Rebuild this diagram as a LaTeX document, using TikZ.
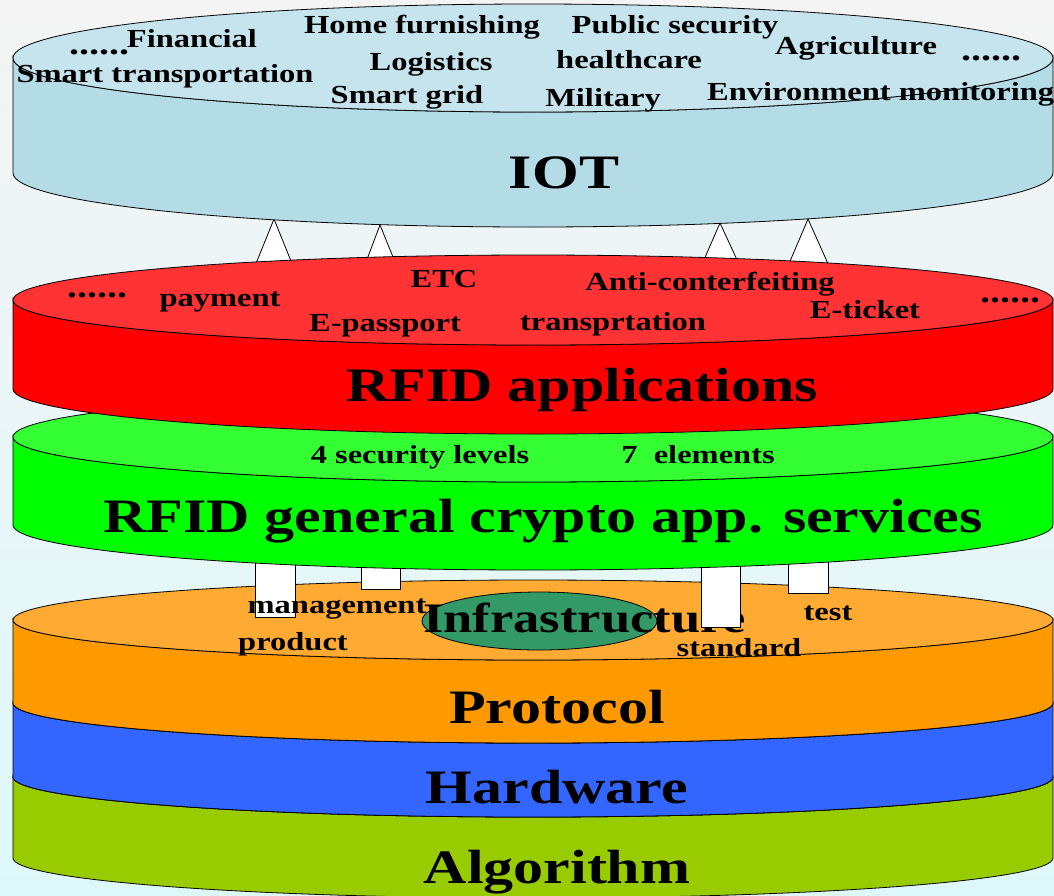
\documentclass[tikz,border=0pt]{standalone}
\usepackage{fontspec}
\setmainfont{Liberation Serif}[FakeStretch=1.25]

\definecolor{iotTop}{RGB}{198,228,238}
\definecolor{iotSide}{RGB}{180,220,230}
\definecolor{appTop}{RGB}{255,51,51}
\definecolor{appSide}{RGB}{255,0,0}
\definecolor{svcTop}{RGB}{51,255,51}
\definecolor{svcSide}{RGB}{0,255,0}
\definecolor{protTop}{RGB}{255,170,51}
\definecolor{protSide}{RGB}{255,153,0}
\definecolor{hwSide}{RGB}{51,102,255}
\definecolor{algSide}{RGB}{153,204,0}
\definecolor{infra}{RGB}{51,153,102}
\definecolor{bgTop}{RGB}{244,244,244}
\definecolor{bgBot}{RGB}{222,248,250}

% a flat drum: #1 top centre y, #2 bottom centre y, #3 y radius,
% #4 colour of the lid, #5 colour of the wall
\newcommand\drum[5]{%
  \path[edge,fill=#5] (13,#1) -- (13,#2)
    arc[start angle=180,end angle=0,x radius=520,y radius=#3]
    -- (1053,#1)
    arc[start angle=0,end angle=180,x radius=520,y radius=#3] -- cycle;
  \path[edge,fill=#4] (533,#1) ellipse[x radius=520,y radius=#3];
}

\begin{document}
\begin{tikzpicture}[x=1pt,y=-1pt,
  edge/.style={draw=black,line width=0.8pt},
  post/.style={draw=black,fill=white,line width=0.8pt},
  lbl/.style={font=\fontsize{26}{26}\selectfont\bfseries,inner sep=0pt,anchor=base},
  dots/.style={font=\fontsize{32}{32}\selectfont\bfseries,inner sep=0pt,anchor=base},
  big/.style={font=\fontsize{48}{48}\selectfont\bfseries,inner sep=0pt,anchor=base}]

\useasboundingbox (0,0) rectangle (1054,895);
\shade[top color=bgTop,bottom color=bgBot] (0,0) rectangle (1054,895);

% lower stack: algorithm, hardware, protocol
\drum{777}{858}{40}{algSide}{algSide}
\drum{703}{777}{40}{hwSide}{hwSide}
\drum{620}{703}{40}{protTop}{protSide}

\path[edge,fill=infra] (539.5,621) ellipse[x radius=117.5,y radius=29];
\node[lbl,font=\fontsize{42}{42}\selectfont\bfseries,anchor=base west] (infr) at (423,632) {Infrastructure};

% supports between the protocol layer and the service layer
\draw[post] (255,540) rectangle (295,617);
\draw[post] (361,540) rectangle (400,589);
\draw[post] (701,540) rectangle (740,627);
\draw[post] (788,540) rectangle (828,593);

\node[lbl] (mgmt) at (337,613) {management};
\node[lbl] (prod) at (293,650) {product};
\node[lbl] (test) at (828,620) {test};
\node[lbl] (std)  at (739,656) {standard};
\node[big] (prot) at (557,723) {Protocol};
\node[big] (hw)   at (557,803) {Hardware};
\node[big] (alg)  at (557,883) {Algorithm};

% service layer
\drum{437}{525}{45}{svcTop}{svcSide}
\node[lbl] (lev) at (420,463) {4 security levels};
\node[lbl] (ele) at (698,463) {7\ \ elements};
\node[big] (svc) at (543,532) {RFID general crypto app. services};

% supports between the application layer and IOT
\draw[post] (255,266) -- (274,219) -- (293,266) -- cycle;
\draw[post] (366,262) -- (380,225) -- (395,262) -- cycle;
\draw[post] (703,262) -- (720,223) -- (738,262) -- cycle;
\draw[post] (788,266) -- (808,219) -- (829,266) -- cycle;

% application layer
\drum{300}{389}{45}{appTop}{appSide}
\node[dots] (d1) at (97,297)  {......};
\node[lbl] (pay) at (220,306) {payment};
\node[lbl] (etc) at (444,287) {ETC};
\node[lbl] (epp) at (385,331) {E-passport};
\node[lbl] (trn) at (613,330) {transprtation};
\node[lbl] (anti) at (710,290) {Anti-conterfeiting};
\node[lbl] (etk) at (865,318) {E-ticket};
\node[dots] (d2) at (1010,302) {......};
\node[big] (app) at (582,401) {RFID applications};

% IOT layer
\drum{58}{173}{54}{iotTop}{iotSide}
\node[dots] (d3) at (99,54)   {......};
\node[lbl] (fin) at (192,47)  {Financial};
\node[lbl] (home) at (422,33) {Home furnishing};
\node[lbl] (pub) at (675,33)  {Public security};
\node[lbl] (agr) at (856,54)  {Agriculture};
\node[dots] (d4) at (991,60)  {......};
\node[lbl] (st)  at (165,82)  {Smart transportation};
\node[lbl] (log) at (431,70)  {Logistics};
\node[lbl] (hc)  at (629,68)  {healthcare};
\node[lbl] (sg)  at (407,103) {Smart grid};
\node[lbl] (mil) at (603,106) {Military};
\node[lbl,anchor=base west] (env) at (707,100) {Environment monitoring};
\node[big] (iot) at (564,188) {IOT};
\end{tikzpicture}
\end{document}
